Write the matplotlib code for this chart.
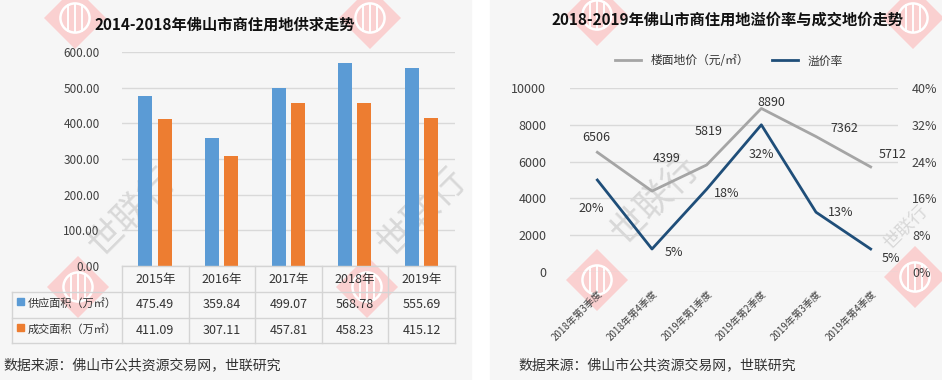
import numpy as np
import matplotlib.pyplot as plt
from matplotlib.patches import Polygon, Circle, Rectangle
from matplotlib.ticker import FuncFormatter

plt.rcParams['font.family'] = ['Noto Sans CJK SC', 'DejaVu Sans']

# data
years = ['2015年', '2016年', '2017年', '2018年', '2019年']
supply = [475.49, 359.84, 499.07, 568.78, 555.69]
deal = [411.09, 307.11, 457.81, 458.23, 415.12]
row_names = ['供应面积（万㎡）', '成交面积（万㎡）']

quarters = ['2018年第3季度', '2018年第4季度', '2019年第1季度',
            '2019年第2季度', '2019年第3季度', '2019年第4季度']
land_price = [6506, 4399, 5819, 8890, 7362, 5712]
premium = [20, 5, 18, 32, 13, 5]

W, H = 942, 380
BLUE, ORANGE = '#5b9bd5', '#ed7d31'
GRAY_LINE, NAVY = '#a5a5a5', '#1f4e79'
TXT = '#404040'


def box(x0, y0, x1, y1):
    # pixel box (top-left origin) -> figure fraction
    return [x0 / W, 1 - y1 / H, (x1 - x0) / W, (y1 - y0) / H]


fig = plt.figure(figsize=(9.42, 3.8), dpi=100)
fig.patch.set_facecolor('white')

bg = fig.add_axes([0, 0, 1, 1], zorder=0)
bg.set_xlim(0, W); bg.set_ylim(H, 0); bg.axis('off')
bg.add_patch(Rectangle((0, 0), 471, H, color='#f6f6f6'))
bg.add_patch(Rectangle((490, 0), W - 490, H, color='#f6f6f6'))

fg = fig.add_axes([0, 0, 1, 1], zorder=5)
fg.set_xlim(0, W); fg.set_ylim(H, 0); fg.axis('off')
fg.patch.set_visible(False)


# ---------------- watermarks (behind everything) ----------------
def stamp(cx, cy, r=31):
    bg.add_patch(Polygon([(cx, cy - r), (cx + r, cy), (cx, cy + r), (cx - r, cy)],
                         closed=True, fc='#fad0d0', ec='none', zorder=2))
    bg.add_patch(Circle((cx, cy), r * 0.47, fc='none', ec='white', lw=1.8, zorder=3))
    for dx in (-0.22, 0, 0.22):
        bg.plot([cx + dx * r, cx + dx * r], [cy - r * 0.42, cy + r * 0.42],
                color='white', lw=1.4, zorder=3)


for cx, cy in [(75, 18), (370, 18), (78, 287), (367, 287),
               (597, 15), (913, 18), (597, 280), (915, 277)]:
    stamp(cx, cy)

for cx, cy, fs in [(132, 212, 26), (422, 212, 26), (655, 200, 26), (906, 228, 13)]:
    bg.text(cx, cy, '世联行', rotation=45, ha='center', va='center', fontsize=fs,
            color='#d8d8d8', zorder=2)

# ---------------- left: bar chart + data table ----------------
ax1 = fig.add_axes(box(122, 52, 455, 266), zorder=2)
ax1.set_facecolor('none')
x = np.arange(len(years))
ax1.bar(x - 0.15, supply, 0.21, color=BLUE, zorder=3)
ax1.bar(x + 0.14, deal, 0.21, color=ORANGE, zorder=3)
ax1.set_xlim(-0.5, 4.5)
ax1.set_ylim(0, 600)
ax1.set_yticks(np.arange(0, 601, 100))
ax1.yaxis.set_major_formatter(FuncFormatter(lambda v, p: f'{v:.2f}'))
ax1.set_xticks([])
ax1.grid(axis='y', color='#d9d9d9', lw=1)
ax1.set_axisbelow(True)
for s in ax1.spines.values():
    s.set_visible(False)
ax1.tick_params(axis='y', length=0, pad=16, labelsize=8.5, labelcolor=TXT)

fg.text(225, 25, '2014-2018年佛山市商住用地供求走势', ha='center', va='center',
        fontsize=11, fontweight='bold', color='#111111')

# table
cols = np.linspace(122, 455, len(years) + 1)
rows = [266, 292, 318, 343]
lc = '#d4d4d4'
fg.plot([122, 455], [rows[0]] * 2, color=lc, lw=1)
for yy in rows[1:]:
    fg.plot([12, 455], [yy, yy], color=lc, lw=1)
for xx in cols:
    fg.plot([xx, xx], [rows[0], rows[-1]], color=lc, lw=1)
fg.plot([12, 12], [rows[1], rows[-1]], color=lc, lw=1)

centers = (cols[:-1] + cols[1:]) / 2
for cx, yr, s, d in zip(centers, years, supply, deal):
    fg.text(cx, 279, yr, ha='center', va='center', fontsize=9, color='#333333')
    fg.text(cx, 305, f'{s:.2f}', ha='center', va='center', fontsize=9, color='#333333')
    fg.text(cx, 331, f'{d:.2f}', ha='center', va='center', fontsize=9, color='#333333')
for yy, name, c in zip([305, 331], row_names, [BLUE, ORANGE]):
    fg.add_patch(Rectangle((17, yy - 7), 7, 7, color=c))
    fg.text(28, yy - 2, name, ha='left', va='center', fontsize=8, color='#333333')

fg.text(3, 365, '数据来源：佛山市公共资源交易网，世联研究', ha='left', va='center',
        fontsize=10, color='#333333')

# ---------------- right: dual-axis line chart ----------------
ax2 = fig.add_axes(box(570, 88, 898, 272), zorder=2)
ax2.set_facecolor('none')
xq = np.arange(len(quarters))
l1, = ax2.plot(xq, land_price, color=GRAY_LINE, lw=2, label='楼面地价（元/㎡）')
ax2.set_xlim(-0.5, 5.5)
ax2.set_ylim(0, 10000)
ax2.set_yticks(np.arange(0, 10001, 2000))
ax2.grid(axis='y', color='#d9d9d9', lw=1)
ax2.set_axisbelow(True)
ax2.set_xticks(xq)
ax2.set_xticklabels(quarters, rotation=45, ha='right', va='top',
                    rotation_mode='anchor', fontsize=7, color=TXT)
ax2.tick_params(axis='x', length=0, pad=12)
ax2.tick_params(axis='y', length=0, pad=17, labelsize=9, labelcolor=TXT)

ax3 = ax2.twinx()
l2, = ax3.plot(xq, premium, color=NAVY, lw=2, label='溢价率')
ax3.set_ylim(0, 40)
ax3.set_yticks(np.arange(0, 41, 8))
ax3.yaxis.set_major_formatter(FuncFormatter(lambda v, p: f'{v:.0f}%'))
ax3.tick_params(axis='y', length=0, pad=10, labelsize=9, labelcolor=TXT)
for a in (ax2, ax3):
    for s in a.spines.values():
        s.set_visible(False)

price_off = [(-1, 15), (15, 33), (2, 33), (10, 6), (28, 8), (22, 12)]
for xi, v, (dx, dy) in zip(xq, land_price, price_off):
    ax2.annotate(f'{v}', (xi, v), xytext=(dx, dy), textcoords='offset pixels',
                 ha='center', va='center', fontsize=9, color='#333333')
prem_off = [(-6, -28), (22, -3), (20, -4), (0, -30), (25, 0), (20, -10)]
for xi, v, (dx, dy) in zip(xq, premium, prem_off):
    ax3.annotate(f'{v}%', (xi, v), xytext=(dx, dy), textcoords='offset pixels',
                 ha='center', va='center', fontsize=9, color='#333333')

ax3.legend([l1, l2], [l1.get_label(), l2.get_label()], loc='center',
           bbox_to_anchor=(729 / W, 1 - 61 / H), bbox_transform=fig.transFigure,
           ncol=2, frameon=False, fontsize=8.5, handlelength=2.2,
           columnspacing=2.0, labelcolor='#333333')

fg.text(728, 20, '2018-2019年佛山市商住用地溢价率与成交地价走势', ha='center',
        va='center', fontsize=11, fontweight='bold', color='#111111')
fg.text(518, 365, '数据来源：佛山市公共资源交易网，世联研究', ha='left', va='center',
        fontsize=10, color='#333333')

fig.savefig('out.png', dpi=100, facecolor=fig.get_facecolor())
